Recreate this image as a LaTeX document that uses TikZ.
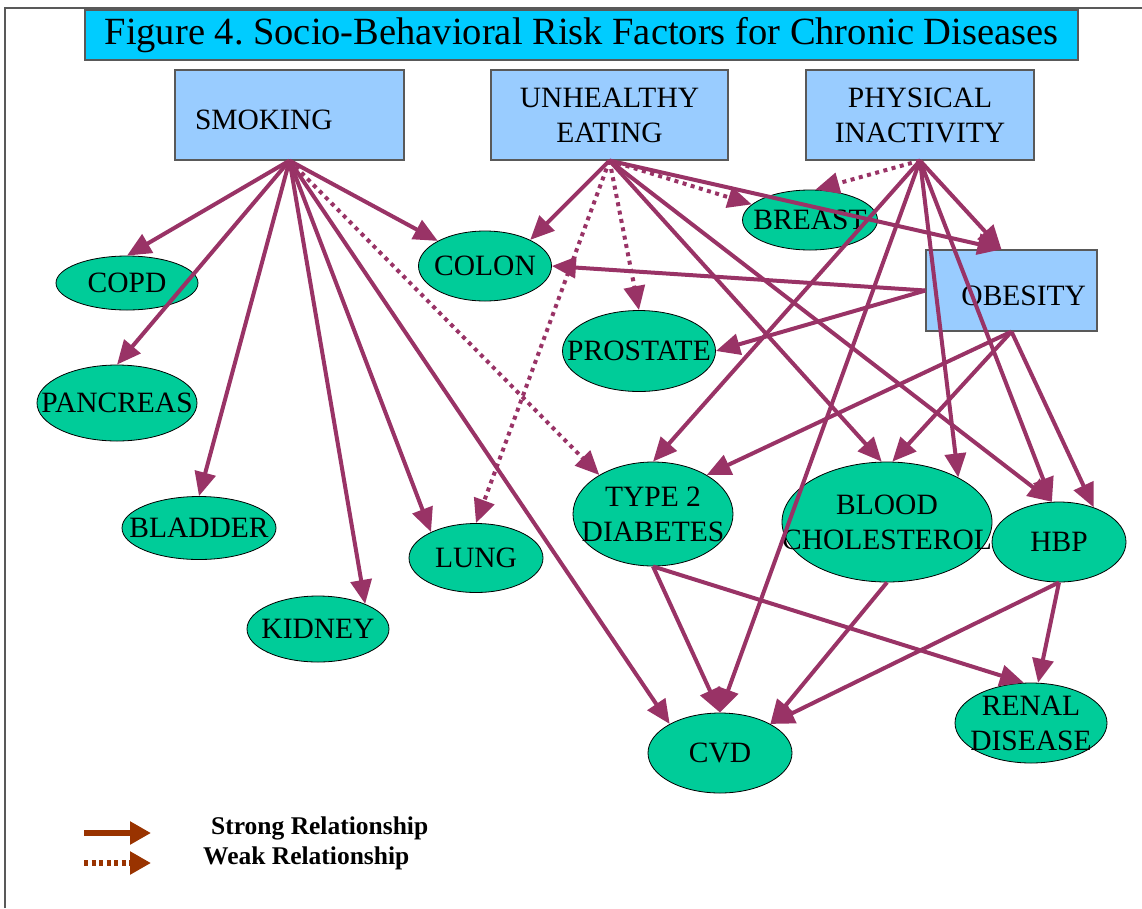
\documentclass[tikz,border=0pt]{standalone}
\usepackage{fontspec}
\setmainfont{Liberation Serif}
\usepackage{tikz}
\usetikzlibrary{shapes.geometric,arrows.meta,positioning}
\definecolor{titlecolor}{RGB}{0,204,255}
\definecolor{factorcolor}{RGB}{153,204,255}
\definecolor{diseasecolor}{RGB}{0,204,153}
\definecolor{linkcolor}{RGB}{153,51,102}
\definecolor{legendcolor}{RGB}{153,51,0}
\definecolor{framecolor}{RGB}{89,89,89}
\newcommand{\zw}[1]{\makebox[0pt]{#1}}
\newcommand{\lowered}[1]{\raisebox{-5pt}[\height][\depth]{#1}}
\frenchspacing
\tikzset{
    factor/.style={rectangle, draw=framecolor, line width=1.2pt, fill=factorcolor, inner ysep=0pt, inner xsep=20pt, minimum height=90pt, font=\fontsize{29.5}{35}\selectfont},
    disease/.style={ellipse, draw=black, line width=0.8pt, fill=diseasecolor, inner sep=0pt, align=center, font=\fontsize{29.5}{35}\selectfont},
    strong/.style={draw=linkcolor, line width=4pt, -{Triangle[length=24pt,width=21pt]}},
    weak/.style={strong, dash pattern=on 4pt off 4.5pt},
    legendarrow/.style={draw=legendcolor, line width=6pt, -{Triangle[length=21pt,width=22pt]}},
    legendtext/.style={anchor=west, inner sep=0pt, font=\bfseries\fontsize{25.5}{30}\selectfont}
}

\begin{document}
\begin{tikzpicture}[x=1pt, y=-1pt]
        \useasboundingbox (0,0) rectangle (1142,908);
        \draw[framecolor, line width=2pt] (5,908) -- (5,8) -- (1142,8);

        \node[draw=framecolor, line width=1.5pt, fill=titlecolor, minimum width=993pt, minimum height=50pt, inner sep=0pt, font=\fontsize{38.5}{44}\selectfont] (title) at (581.5,35) {Figure 4. Socio-Behavioral Risk Factors for Chronic Diseases};

        \node[factor, text width=189pt, align=left] (smoking) at (289.5,115) {\lowered{SMOKING}};
        \node[factor, text width=197pt, align=center] (eating) at (609.5,115) {UNHEALTHY\\EATING};
        \node[factor, text width=188pt, align=center] (inactivity) at (920,115) {PHYSICAL\\INACTIVITY};
        \node[factor, text width=149pt, inner xsep=11pt, minimum height=81pt, align=right] (obesity) at (1011.5,290.5) {\lowered{OBESITY}};

        \node[disease, minimum width=142pt, minimum height=54pt] (copd) at (127,283) {\zw{COPD}};
        \node[disease, minimum width=160pt, minimum height=76pt] (pancreas) at (117,403) {\zw{PANCREAS}};
        \node[disease, minimum width=154pt, minimum height=63pt] (bladder) at (199,528) {\zw{BLADDER}};
        \node[disease, minimum width=142pt, minimum height=66pt] (kidney) at (318,629) {\zw{KIDNEY}};
        \node[disease, minimum width=134pt, minimum height=69pt] (lung) at (476,558) {\zw{LUNG}};
        \node[disease, minimum width=133pt, minimum height=70pt] (colon) at (485,266) {\zw{COLON}};
        \node[disease, minimum width=153pt, minimum height=81pt] (prostate) at (639,351) {\zw{PROSTATE}};
        \node[disease, minimum width=135pt, minimum height=60pt] (breast) at (810,220) {\zw{BREAST}};
        \node[disease, minimum width=160pt, minimum height=104pt] (diabetes) at (653,514) {\zw{TYPE 2}\\\zw{DIABETES}};
        \node[disease, minimum width=210pt, minimum height=120pt] (cholesterol) at (887,522) {\zw{BLOOD}\\\zw{CHOLESTEROL}};
        \node[disease, minimum width=134pt, minimum height=80pt] (hbp) at (1059,542) {\zw{HBP}};
        \node[disease, minimum width=152pt, minimum height=80pt] (renal) at (1031,723) {\zw{RENAL}\\\zw{DISEASE}};
        \node[disease, minimum width=144pt, minimum height=80pt] (cvd) at (720,753) {\zw{CVD}};

        \draw[strong] (smoking.south) -- (copd.north);
        \draw[strong] (smoking.south) -- (pancreas.north);
        \draw[strong] (smoking.south) -- (bladder.north);
        \draw[strong] (smoking.south) -- (kidney.28);
        \draw[strong] (smoking.south) -- (lung.150);
        \draw[strong] (smoking.south) -- (colon.152);
        \draw[strong] (smoking.south) -- (cvd.150);
        \draw[weak] (smoking.south) -- (diabetes.144);

        \draw[strong] (eating.south) -- (colon.30);
        \draw[strong] (eating.south) -- (cholesterol.95);
        \draw[strong] (eating.south) -- (hbp.100);
        \draw[strong] (eating.south) -- ([xshift=-10pt]obesity.north);
        \draw[weak] (eating.south) -- (lung.north);
        \draw[weak] (eating.south) -- (prostate.north);
        \draw[weak] (eating.south) -- (breast.165);

        \draw[strong] (inactivity.south) -- ([xshift=-10pt]obesity.north);
        \draw[strong] (inactivity.south) -- (diabetes.north);
        \draw[strong] (inactivity.south) -- (cvd.north);
        \draw[strong] (inactivity.south) -- (cholesterol.32);
        \draw[strong] (inactivity.south) -- (hbp.100);
        \draw[weak] (inactivity.south) -- (breast.80);

        \draw[strong] (obesity.west) -- (colon.east);
        \draw[strong] (obesity.west) -- (prostate.east);
        \draw[strong] (obesity.south) -- (diabetes.36);
        \draw[strong] (obesity.south) -- (cholesterol.85);
        \draw[strong] (obesity.south) -- (hbp.45);

        \draw[strong] (diabetes.south) -- (cvd.north);
        \draw[strong] (diabetes.south) -- (renal.100);
        \draw[strong] (cholesterol.south) -- (cvd.30);
        \draw[strong] (hbp.south) -- (cvd.30);
        \draw[strong] (hbp.south) -- (renal.80);

        \coordinate (strongstart) at (84,833);
        \coordinate (strongend) at (151,833);
        \coordinate (weakstart) at (84,863);
        \coordinate (weakend) at (151,863);
        \draw[legendarrow] (strongstart) -- (strongend);
        \draw[legendarrow, dash pattern=on 4pt off 3.5pt] (weakstart) -- (weakend);
        \node[legendtext] (stronglabel) at (211,828) {Strong Relationship};
        \node[legendtext] (weaklabel) at (203,858) {Weak Relationship};
\end{tikzpicture}
\end{document}
